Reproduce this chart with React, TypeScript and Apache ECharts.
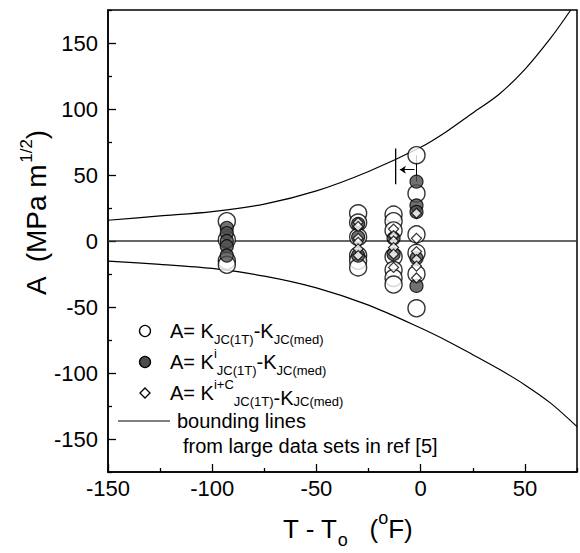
import React, { useEffect, useRef } from 'react';
import * as echarts from 'echarts';

const FONT = '"Liberation Sans", Arial, Helvetica, sans-serif';

// Axis ticks
const xMajorTicks = [-150, -100, -50, 0, 50];
const xMinorTicks = [-125, -75, -25, 25, 75];
const yMajorTicks = [-150, -100, -50, 0, 50, 100, 150];
const yMinorTicks = [-175, -125, -75, -25, 25, 75, 125, 175];

// Bounding lines from large data sets
const upperBound: [number, number][] = [
  [-150, 15.7], [-125, 19.0], [-100, 22.3], [-75, 28], [-50, 38], [-25, 52.7],
  [0, 71], [12.5, 83], [25, 97], [37.5, 111], [50, 130], [62.5, 154], [72, 175],
];
const lowerBound: [number, number][] = [
  [-150, -15.2], [-125, -17.7], [-100, -20.8], [-75, -26.6], [-50, -35.5], [-25, -48.6],
  [0, -65.9], [12.5, -75.5], [25, -86.1], [37.5, -97], [50, -109], [62.5, -123], [75, -140.6],
];

// A = K_JC(1T) - K_JC(med)
const openCircles: [number, number][] = [
  [-93, 15], [-93, 1], [-93, -15], [-93, -18],
  [-30, 21], [-30, 14], [-30, 3], [-30, -11], [-30, -15], [-30, -20],
  [-13, 20], [-13, 15], [-13, 8], [-13, -12], [-13, -22], [-13, -28], [-13, -33],
  [-2, 65], [-2, 36], [-2, 5], [-2, -9], [-2, -25], [-2, -51],
];
// A = K^i_JC(1T) - K_JC(med)
const filledCircles: [number, number][] = [
  [-93, 10], [-93, 6], [-93, 0], [-93, -4], [-93, -11],
  [-30, 13], [-30, 3], [-30, -11],
  [-13, 2], [-13, -10],
  [-2, 45], [-2, 27], [-2, 22], [-2, -13], [-2, -34],
];
// A = K^(i+C)_JC(1T) - K_JC(med)
const diamonds: [number, number][] = [
  [-30, 14], [-30, 11], [-30, 2], [-30, -1], [-30, -6], [-30, -11],
  [-13, 9], [-13, 4], [-13, 0], [-13, -5], [-13, -10], [-13, -20],
  [-2, 21], [-2, 2], [-2, -8], [-2, -14], [-2, -19], [-2, -28],
];

const zeroLine: [number, number][] = [[-150, 0], [75, 0]];
const connector: [number, number][] = [[-2, 65], [-2, 45]];
const markerBar: [number, number][] = [[-12, 43], [-12, 70]];
const arrowCoords: [number, number][] = [[-3, 54], [-10, 54]];

const legendRich = {
  m: { fontSize: 20, fontFamily: FONT, color: '#000', lineHeight: 30 },
  sub: { fontSize: 13, fontFamily: FONT, color: '#000', lineHeight: 10, verticalAlign: 'bottom' },
  subhi: { fontSize: 13, fontFamily: FONT, color: '#000', lineHeight: 14, verticalAlign: 'bottom' },
  sup: { fontSize: 13, fontFamily: FONT, color: '#000', lineHeight: 13, verticalAlign: 'top' },
  mlow: { fontSize: 20, fontFamily: FONT, color: '#000', lineHeight: 16, verticalAlign: 'bottom' },
  sublow: { fontSize: 13, fontFamily: FONT, color: '#000', lineHeight: 4, verticalAlign: 'bottom' },
};

function legendText(x: number, y: number, text: string) {
  return {
    type: 'text',
    x,
    y,
    style: {
      text,
      rich: legendRich,
      align: 'left',
      verticalAlign: 'middle',
      textAlign: 'left',
      textVerticalAlign: 'middle',
      font: `20px ${FONT}`,
      fill: '#000',
    },
  };
}

export default function App() {
  const ref = useRef<HTMLDivElement>(null);

  useEffect(() => {
    if (!ref.current) return;
    const chart = echarts.init(ref.current, null, { renderer: 'svg' });

    const axisLabelStyle = { fontSize: 22, color: '#000', fontFamily: FONT };

    const option: any = {
      animation: false,
      backgroundColor: '#fff',
      grid: {
        left: 108, top: 10, width: 469, height: 462,
        show: true, borderColor: '#000', borderWidth: 1.5,
        containLabel: false, outerBoundsMode: 'none',
      },
      xAxis: [
        {
          type: 'value', min: -150, max: 75, interval: 50, position: 'bottom',
          axisLine: { show: true, onZero: false, lineStyle: { color: '#000', width: 1.5 } },
          axisTick: { show: true, inside: true, length: 8, customValues: xMajorTicks, lineStyle: { color: '#000', width: 1.3 } },
          axisLabel: { show: true, customValues: xMajorTicks, margin: 5, ...axisLabelStyle },
          splitLine: { show: false },
        },
        {
          type: 'value', min: -150, max: 75, interval: 50, position: 'bottom', offset: 0,
          axisLine: { show: false, onZero: false },
          axisTick: { show: true, inside: true, length: 4, customValues: xMinorTicks, lineStyle: { color: '#000', width: 1.3 } },
          axisLabel: { show: false },
          splitLine: { show: false },
        },
      ],
      yAxis: [
        {
          type: 'value', min: -175, max: 175, position: 'left',
          axisLine: { show: true, onZero: false, lineStyle: { color: '#000', width: 1.5 } },
          axisTick: { show: true, inside: true, length: 8, customValues: yMajorTicks, lineStyle: { color: '#000', width: 1.3 } },
          axisLabel: { show: true, customValues: yMajorTicks, margin: 10, ...axisLabelStyle },
          splitLine: { show: false },
        },
        {
          type: 'value', min: -175, max: 175, position: 'left', offset: 0,
          axisLine: { show: false, onZero: false },
          axisTick: { show: true, inside: true, length: 4, customValues: yMinorTicks, lineStyle: { color: '#000', width: 1.3 } },
          axisLabel: { show: false },
          splitLine: { show: false },
        },
      ],
      series: [
        {
          type: 'line', data: zeroLine, symbol: 'none', silent: true, z: 1,
          lineStyle: { color: '#333', width: 1.3 },
        },
        {
          type: 'line', data: upperBound, symbol: 'none', silent: true, smooth: 0.3, z: 1,
          lineStyle: { color: '#000', width: 1.2 },
        },
        {
          type: 'line', data: lowerBound, symbol: 'none', silent: true, smooth: 0.3, z: 1,
          lineStyle: { color: '#000', width: 1.2 },
        },
        {
          type: 'line', data: connector, symbol: 'none', silent: true, z: 1,
          lineStyle: { color: '#000', width: 1 },
        },
        {
          type: 'line', data: markerBar, symbol: 'none', silent: true, z: 1,
          lineStyle: { color: '#000', width: 1.3 },
        },
        {
          type: 'lines', coordinateSystem: 'cartesian2d', xAxisIndex: 0, yAxisIndex: 0,
          data: [{ coords: arrowCoords }], symbol: ['none', 'arrow'], symbolSize: 6,
          lineStyle: { color: '#000', width: 1, opacity: 1, curveness: 0 }, silent: true, z: 1,
        },
        {
          type: 'scatter', data: openCircles, symbol: 'circle', symbolSize: 17, z: 2,
          itemStyle: { color: '#fff', borderColor: '#000', borderWidth: 1.4 },
        },
        {
          type: 'scatter', data: filledCircles, symbol: 'circle', symbolSize: 13, z: 3,
          itemStyle: { color: '#4d4d4d', borderColor: '#000', borderWidth: 1.2 },
        },
        {
          type: 'scatter', data: diamonds, symbol: 'diamond', symbolSize: 10, z: 4,
          itemStyle: { color: '#fff', borderColor: '#000', borderWidth: 1.2 },
        },
      ],
      graphic: [
        { type: 'circle', shape: { cx: 145, cy: 331, r: 5.5 }, style: { fill: '#fff', stroke: '#000', lineWidth: 1.3 } },
        { type: 'circle', shape: { cx: 145, cy: 362, r: 5.5 }, style: { fill: '#4d4d4d', stroke: '#000', lineWidth: 1.3 } },
        { type: 'polygon', shape: { points: [[145, 388], [150, 393], [145, 398], [140, 393]] }, style: { fill: '#fff', stroke: '#000', lineWidth: 1.3 } },
        { type: 'line', shape: { x1: 118, y1: 421, x2: 170, y2: 421 }, style: { stroke: '#000', lineWidth: 1 } },
        legendText(170, 331, '{m|A= K}{subhi|JC(1T)}{m|-K}{subhi|JC(med)}'),
        legendText(170, 362, '{m|A= K}{sup|i}{sub|JC(1T)}{m|-K}{sub|JC(med)}'),
        legendText(170, 393, '{m|A= K}{sup|i+C}{sub|JC(1T)}{mlow|-K}{sublow|JC(med)}'),
        legendText(177, 421, '{m|bounding lines}'),
        legendText(183, 446, '{m|from large data sets in ref [5]}'),
        {
          type: 'text', x: 36, y: 295, rotation: Math.PI / 2,
          style: {
            text: '{m|A  (MPa m}{sup|1/2}{m|)}',
            rich: {
              m: { fontSize: 28, fontFamily: FONT, color: '#000', lineHeight: 36 },
              sup: { fontSize: 17, fontFamily: FONT, color: '#000', lineHeight: 14, verticalAlign: 'top' },
            },
            align: 'left', verticalAlign: 'middle', textAlign: 'left', textVerticalAlign: 'middle',
            font: `28px ${FONT}`, fill: '#000',
          },
        },
        {
          type: 'text', x: 283, y: 529,
          style: {
            text: '{m|T - T}{sub|o}{m|   (}{sup|o}{m|F)}',
            rich: {
              m: { fontSize: 26, fontFamily: FONT, color: '#000', lineHeight: 40 },
              sub: { fontSize: 18, fontFamily: FONT, color: '#000', lineHeight: 6, verticalAlign: 'bottom' },
              sup: { fontSize: 18, fontFamily: FONT, color: '#000', lineHeight: 26, verticalAlign: 'top' },
            },
            align: 'left', verticalAlign: 'middle', textAlign: 'left', textVerticalAlign: 'middle',
            font: `26px ${FONT}`, fill: '#000',
          },
        },
      ],
    };

    chart.setOption(option);
    return () => chart.dispose();
  }, []);

  return (
    <div
      ref={ref}
      style={{ position: 'fixed', left: 0, top: 0, width: 580, height: 553, background: '#fff' }}
    />
  );
}
